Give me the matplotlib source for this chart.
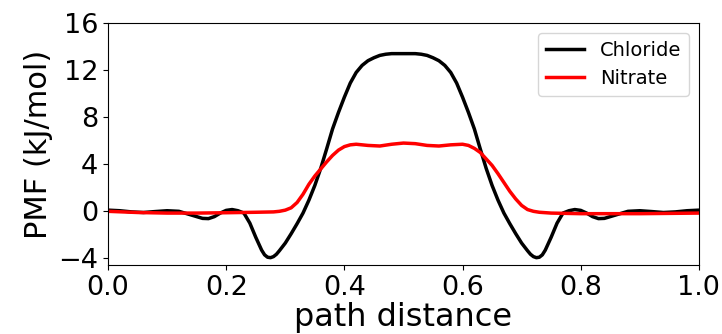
import matplotlib
matplotlib.use("Agg")
import matplotlib.pyplot as plt

# Chloride PMF
cl_x = [0.00, 0.02, 0.04, 0.06, 0.08, 0.10, 0.12, 0.14, 0.16, 0.17, 0.18, 0.19, 0.20, 0.21, 0.22,
        0.23, 0.24, 0.25, 0.26, 0.265, 0.27, 0.275, 0.28, 0.285, 0.29, 0.30, 0.31, 0.32, 0.33,
        0.34, 0.35, 0.36, 0.37, 0.38, 0.39, 0.40, 0.41, 0.42, 0.43, 0.44, 0.45, 0.46, 0.47,
        0.48, 0.50, 0.52, 0.53, 0.54, 0.55, 0.56, 0.57, 0.58, 0.59, 0.60, 0.61, 0.62, 0.63,
        0.64, 0.65, 0.66, 0.67, 0.68, 0.69, 0.70, 0.71, 0.715, 0.72, 0.725, 0.73, 0.735, 0.74,
        0.75, 0.76, 0.77, 0.78, 0.79, 0.80, 0.81, 0.82, 0.83, 0.84, 0.86, 0.88, 0.90, 0.92,
        0.94, 0.96, 0.98, 1.00]
cl_y = [0.10, 0.05, -0.05, -0.10, -0.02, 0.05, 0.00, -0.30, -0.60, -0.62, -0.45, -0.15, 0.08, 0.15, 0.05,
        -0.15, -1.00, -2.20, -3.30, -3.70, -3.90, -3.94, -3.85, -3.65, -3.35, -2.70, -1.90, -1.05, -0.15,
        0.95, 2.20, 3.65, 5.30, 7.00, 8.40, 9.70, 10.90, 11.80, 12.40, 12.80, 13.05, 13.25, 13.35,
        13.40, 13.40, 13.40, 13.35, 13.25, 13.05, 12.80, 12.40, 11.80, 10.90, 9.70, 8.40, 7.00, 5.30,
        3.65, 2.20, 0.95, -0.15, -1.05, -1.90, -2.70, -3.35, -3.65, -3.85, -3.94, -3.90, -3.70, -3.30,
        -2.20, -1.00, -0.15, 0.05, 0.15, 0.08, -0.15, -0.45, -0.62, -0.60, -0.30, 0.00, 0.05, -0.02,
        -0.10, -0.05, 0.05, 0.10]

# Nitrate PMF
no3_x = [0.00, 0.05, 0.10, 0.15, 0.20, 0.25, 0.28, 0.29, 0.30, 0.31, 0.32, 0.33, 0.34, 0.35,
         0.36, 0.37, 0.38, 0.39, 0.40, 0.41, 0.42, 0.44, 0.46, 0.48, 0.50, 0.52, 0.54, 0.56,
         0.58, 0.60, 0.61, 0.62, 0.63, 0.64, 0.65, 0.66, 0.67, 0.68, 0.69, 0.70, 0.71, 0.72,
         0.73, 0.75, 0.80, 0.90, 1.00]
no3_y = [0.00, -0.10, -0.15, -0.15, -0.12, -0.08, -0.05, 0.00, 0.10, 0.30, 0.75, 1.45, 2.30, 3.00,
         3.60, 4.20, 4.75, 5.20, 5.50, 5.65, 5.70, 5.60, 5.55, 5.70, 5.80, 5.75, 5.60, 5.55,
         5.65, 5.70, 5.60, 5.35, 5.00, 4.45, 3.90, 3.20, 2.45, 1.70, 1.05, 0.50, 0.15, 0.00,
         -0.08, -0.15, -0.20, -0.20, -0.15]

x_ticks = [0.0, 0.2, 0.4, 0.6, 0.8, 1.0]
y_ticks = [-4, 0, 4, 8, 12, 16]

fig = plt.figure(figsize=(7.22, 3.34), dpi=100)
ax = fig.add_axes([0.1496, 0.207, 0.8184, 0.724])
ax.plot(cl_x, cl_y, color="black", lw=2.5, label="Chloride")
ax.plot(no3_x, no3_y, color="red", lw=2.5, label="Nitrate")
ax.set_xlim(0, 1.0)
ax.set_ylim(-4.55, 16)
ax.set_xticks(x_ticks)
ax.set_yticks(y_ticks)
ax.tick_params(labelsize=19.5)
ax.set_xlabel("path distance", fontsize=23, labelpad=1)
ax.set_ylabel("PMF (kJ/mol)", fontsize=22)
ax.legend(loc="upper right", fontsize=14)
fig.savefig("out.png", dpi=100)
